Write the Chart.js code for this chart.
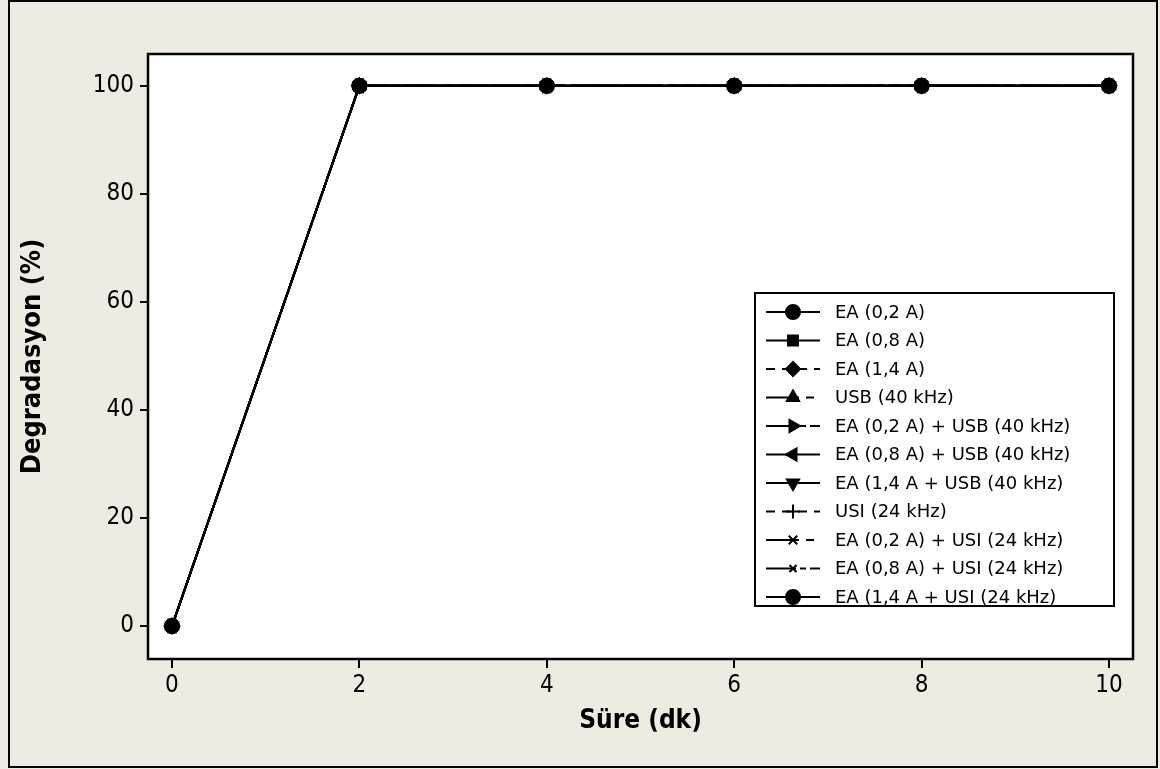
<!DOCTYPE html>
<html>
<head>
<meta charset="utf-8">
<script src="https://cdn.jsdelivr.net/npm/chart.js@4"></script>
<style>
  body { margin: 0; background: #efebe1; }
  #wrap { width: 1160px; height: 769px; }
</style>
</head>
<body>
<div id="wrap"><canvas id="myChart" width="1160" height="769"></canvas></div>
<script>
// time (dk) and degradation (%) for every series
let sure = [0, 2, 4, 6, 8, 10];
let labels = [
  "EA (0,2 A)",
  "EA (0,8 A)",
  "EA (1,4 A)",
  "USB (40 kHz)",
  "EA (0,2 A) + USB (40 kHz)",
  "EA (0,8 A) + USB (40 kHz)",
  "EA (1,4 A + USB (40 kHz)",
  "USI (24 kHz)",
  "EA (0,2 A) + USI (24 kHz)",
  "EA (0,8 A) + USI (24 kHz)",
  "EA (1,4 A + USI (24 kHz)"
];
let ea02 = [0, 100, 100, 100, 100, 100];
let ea08 = [0, 100, 100, 100, 100, 100];
let ea14 = [0, 100, 100, 100, 100, 100];
let usb = [0, 100, 100, 100, 100, 100];
let ea02usb = [0, 100, 100, 100, 100, 100];
let ea08usb = [0, 100, 100, 100, 100, 100];
let ea14usb = [0, 100, 100, 100, 100, 100];
let usi = [0, 100, 100, 100, 100, 100];
let ea02usi = [0, 100, 100, 100, 100, 100];
let ea08usi = [0, 100, 100, 100, 100, 100];
let ea14usi = [0, 100, 100, 100, 100, 100];
let xTicks = [0, 2, 4, 6, 8, 10];
let yTicks = [0, 20, 40, 60, 80, 100];

let allSeries = [ea02, ea08, ea14, usb, ea02usb, ea08usb, ea14usb, usi, ea02usi, ea08usi, ea14usi];
let styles = [
  { ps: "circle", rot: 0, dash: [], r: 7 },
  { ps: "rect", rot: 0, dash: [], r: 7 },
  { ps: "rectRot", rot: 0, dash: [9, 7], r: 7 },
  { ps: "triangle", rot: 0, dash: [33, 7, 8, 8], r: 7 },
  { ps: "triangle", rot: 90, dash: [30, 4, 6, 4], r: 7 },
  { ps: "triangle", rot: -90, dash: [], r: 7 },
  { ps: "triangle", rot: 180, dash: [], r: 7 },
  { ps: "cross", rot: 0, dash: [9, 7], r: 7 },
  { ps: "crossRot", rot: 0, dash: [33, 7, 8, 8], r: 6 },
  { ps: "crossRot", rot: 0, dash: [30, 4, 6, 4], r: 5 },
  { ps: "circle", rot: 0, dash: [], r: 7 }
];

let datasets = allSeries.map((s, i) => ({
  label: labels[i],
  data: s.map((v, j) => ({ x: sure[j], y: v })),
  borderColor: "#000",
  backgroundColor: "#000",
  borderWidth: 2,
  borderDash: styles[i].dash,
  pointStyle: styles[i].ps,
  pointRotation: styles[i].rot,
  pointRadius: styles[i].r,
  pointBorderWidth: 2,
  tension: 0
}));

let frame = {
  id: "frame",
  beforeDraw(chart) {
    let c = chart.ctx;
    let a = chart.chartArea;
    c.save();
    c.fillStyle = "#efebe1";
    c.fillRect(0, 0, chart.width, chart.height);
    c.strokeStyle = "#000";
    c.lineWidth = 2;
    c.strokeRect(9, 1, 1148, 766);
    c.fillStyle = "#fff";
    c.fillRect(a.left, a.top, a.right - a.left, a.bottom - a.top);
    c.restore();
  },
  afterDraw(chart) {
    let c = chart.ctx;
    let a = chart.chartArea;
    c.save();
    c.strokeStyle = "#000";
    c.lineWidth = 2.5;
    c.strokeRect(a.left, a.top, a.right - a.left, a.bottom - a.top);

    // legend box
    let lx = 755, ly = 293, lw = 359, lh = 313;
    c.fillStyle = "#fff";
    c.fillRect(lx, ly, lw, lh);
    c.lineWidth = 2;
    c.strokeRect(lx, ly, lw, lh);
    c.font = "18px 'DejaVu Sans', sans-serif";
    c.textBaseline = "middle";
    chart.data.datasets.forEach((ds, i) => {
      let y = 312 + i * 28.5;
      c.strokeStyle = "#000";
      c.lineWidth = 2;
      c.setLineDash(ds.borderDash);
      c.beginPath();
      c.moveTo(766, y);
      c.lineTo(820, y);
      c.stroke();
      c.setLineDash([]);
      c.fillStyle = "#000";
      Chart.helpers.drawPoint(c, {
        pointStyle: ds.pointStyle,
        rotation: ds.pointRotation,
        radius: ds.pointRadius,
        borderWidth: 2
      }, 793, y);
      c.fillText(ds.label, 835, y + 1);
    });
    c.restore();
  }
};

const ctx = document.getElementById("myChart").getContext("2d");
Chart.defaults.font.family = "'DejaVu Sans Condensed', 'DejaVu Sans', sans-serif";
Chart.defaults.color = "#000";

new Chart(ctx, {
  type: "line",
  data: { datasets: datasets },
  options: {
    responsive: false,
    animation: false,
    layout: { padding: { top: 54, right: 27, left: 0, bottom: 0 } },
    plugins: { legend: { display: false }, tooltip: { enabled: false } },
    scales: {
      x: {
        type: "linear",
        min: -0.256,
        max: 10.256,
        afterBuildTicks: (s) => { s.ticks = xTicks.map((v) => ({ value: v })); },
        afterFit: (s) => { s.height = 110; },
        grid: { drawOnChartArea: false, tickLength: 9, color: "#000", lineWidth: 2 },
        border: { display: false },
        ticks: { font: { size: 24 }, padding: 3, maxRotation: 0 },
        title: { display: true, text: "Süre (dk)", font: { size: 26, weight: "bold" }, padding: { top: 0, bottom: 32 }, align: "center" }
      },
      y: {
        min: -6.1,
        max: 105.9,
        afterBuildTicks: (s) => { s.ticks = yTicks.map((v) => ({ value: v })); },
        afterFit: (s) => { s.width = 148; },
        grid: { drawOnChartArea: false, tickLength: 8, color: "#000", lineWidth: 2 },
        border: { display: false },
        ticks: { font: { size: 24 }, padding: 6 },
        title: { display: true, text: "Degradasyon (%)", font: { size: 27, weight: "bold" }, padding: { top: 17, bottom: 0 } }
      }
    }
  },
  plugins: [frame]
});
</script>
</body>
</html>
